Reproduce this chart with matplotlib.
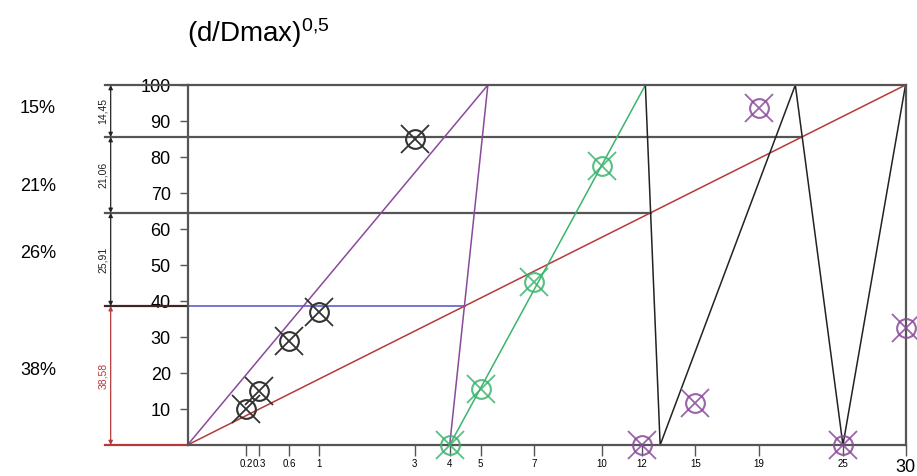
import numpy as np
import matplotlib
matplotlib.use("Agg")
from matplotlib import pyplot as plt
from matplotlib import transforms

plt.rcParams['font.family'] = ['Liberation Sans', 'DejaVu Sans']

DMAX = 30.0

# limit lines (d, % passing)
purple_d = [0, 5.25, 4]
purple_p = [0, 100, 0]
green_d = [4, 12.2]
green_p = [0, 100]
black_d = [12.2, 13.0, 21.5, 25, 30]
black_p = [100, 0, 100, 0, 100]
red_d = [0, 30]
red_p = [0, 100]

# measured points
black_pts_d = [0.2, 0.3, 0.6, 1, 3]
black_pts_p = [10, 15, 29, 37, 85]
green_pts_d = [4, 5, 7, 10]
green_pts_p = [0, 15.5, 45.3, 77.5]
purple_pts_d = [12, 15, 19, 25, 30]
purple_pts_p = [0, 11.8, 93.5, 0, 32.4]

# fraction boundaries
levels = [100, 85.55, 64.49, 38.58, 0]
level_ends = [30, 21.96, 12.48, 4.47, 0]
dim_labels = ["14,45", "21,06", "25,91", "38,58"]
pct_labels = ["15%", "21%", "26%", "38%"]
pct_y = [93.6, 71.7, 53.3, 20.6]

x_ticks = [0.2, 0.3, 0.6, 1, 3, 4, 5, 7, 10, 12, 15, 19, 25, 30]
y_ticks = [10, 20, 30, 40, 50, 60, 70, 80, 90, 100]

c_purple = "#8a4a9a"
c_green = "#3cb46e"
c_red = "#b53a3a"
c_blue = "#6b6bd0"
c_black = "#222222"
c_frame = "#555555"


def fwd(x):
    return np.sqrt(np.clip(x, 0, None) / DMAX)


def inv(u):
    return DMAX * np.asarray(u) ** 2


fig = plt.figure(figsize=(9.17, 4.76), dpi=100)
ax = fig.add_axes([187.5 / 917, 1 - 445 / 476, 718 / 917, 360 / 476])
ax.set_xscale("function", functions=(fwd, inv))
ax.set_xlim(0, 30)
ax.set_ylim(0, 100)

# horizontal level lines
for lv, xe in zip(levels[1:4], level_ends[1:4]):
    col = c_blue if lv == 38.58 else c_frame
    ax.plot([0, xe], [lv, lv], color=col, lw=1.6 if col == c_frame else 1.3)

ax.plot(red_d, red_p, color=c_red, lw=1.1)
ax.plot(purple_d, purple_p, color=c_purple, lw=1.1)
ax.plot(green_d, green_p, color=c_green, lw=1.1)
ax.plot(black_d, black_p, color=c_black, lw=1.1)


def marks(xs, ys, col, alpha=1.0):
    ax.plot(xs, ys, ls="none", marker="o", ms=13.5, mfc="none", mec=col,
            mew=1.5, alpha=alpha, clip_on=False, zorder=5)
    ax.plot(xs, ys, ls="none", marker="x", ms=20, mec=col, mew=1.3,
            alpha=alpha, clip_on=False, zorder=5)


marks(black_pts_d, black_pts_p, "#333333")
marks(green_pts_d, green_pts_p, c_green, 0.85)
marks(purple_pts_d, purple_pts_p, c_purple, 0.85)

for s in ax.spines.values():
    s.set_color(c_frame)
    s.set_linewidth(1.6)

ax.set_yticks(y_ticks)
ax.tick_params(axis="y", direction="out", length=6, width=1, pad=6,
               labelsize=13, colors=c_frame, labelcolor="black")
ax.set_xticks(x_ticks)
ax.set_xticklabels([str(t) for t in x_ticks])
ax.tick_params(axis="x", direction="out", length=8, width=1, pad=2,
               labelsize=7, colors=c_frame, labelcolor="black")
ax.xaxis.set_minor_locator(matplotlib.ticker.NullLocator())
lab30 = ax.get_xticklabels()[-1]
lab30.set_fontsize(13)

# left-side dimension lines
tr = transforms.blended_transform_factory(ax.transAxes, ax.transData)
xl = -0.115
for lv in levels[:4]:
    col = "#402525" if lv == 38.58 else c_frame
    ax.plot([xl, 0], [lv, lv], color=col, lw=1.6, transform=tr, clip_on=False)
ax.plot([xl, 0], [0, 0], color=c_red, lw=1.6, transform=tr, clip_on=False)

for i, lab in enumerate(dim_labels):
    top, bot = levels[i], levels[i + 1]
    col = c_red if i == 3 else c_black
    ax.annotate("", xy=(-0.107, top), xytext=(-0.107, bot),
                xycoords=tr, textcoords=tr,
                arrowprops=dict(arrowstyle="<|-|>", color=col, lw=0.9,
                                mutation_scale=6, shrinkA=0, shrinkB=0))
    ax.text(-0.118, (top + bot) / 2, lab, transform=tr, rotation=90,
            ha="center", va="center", fontsize=7.5, color=col)

trf = transforms.blended_transform_factory(fig.transFigure, ax.transData)
for lab, yy in zip(pct_labels, pct_y):
    fig.text(20 / 917, yy, lab, transform=trf, ha="left", va="center",
             fontsize=13)

fig.text(187 / 917, 1 - 33 / 476, r"$\mathregular{(d/Dmax)^{0{,}5}}$",
         ha="left", va="center", fontsize=20)

fig.savefig("out.png", dpi=100)
